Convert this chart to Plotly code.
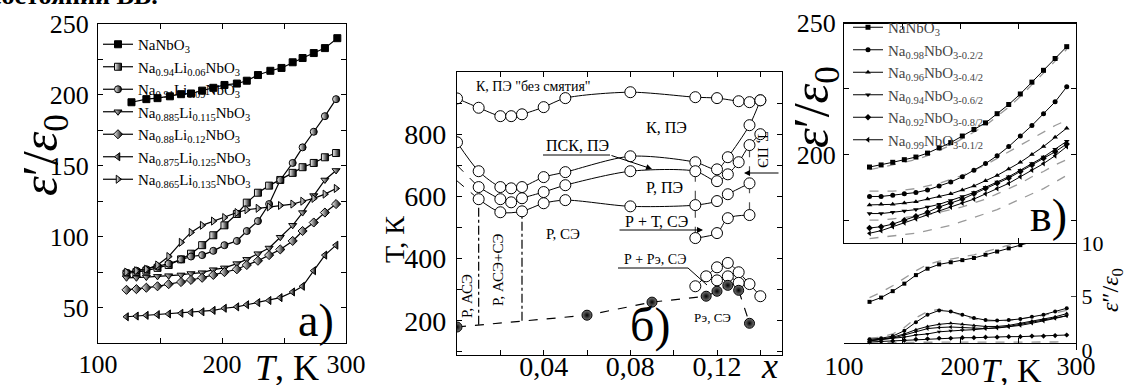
import plotly.graph_objects as go

W, H = 1124, 385
FONT = "Liberation Serif"

# ---------------- Panel a data (eps'/eps0 vs T) ----------------
T_na = [127, 139, 148, 158, 167, 175, 184, 193, 202, 212, 220, 229, 239, 248, 257, 265, 274, 283, 293]
eps_na = [194.8, 197, 197.7, 199, 200.5, 201, 203, 205, 207, 208, 210, 214, 217, 219, 223, 226, 229.5, 233, 240]

T_a = [123, 131, 139, 148, 157, 167, 175, 184, 193, 202, 212, 220, 229, 238, 247, 257, 265, 274, 283, 292]
eps_li006 = [74, 75, 76, 78, 80, 84, 88, 94, 101, 108, 116, 124, 131, 136, 140, 145, 149, 152, 156, 159]
eps_li009 = [74.6, 76, 77, 79, 81, 84, 86, 87, 90, 94, 97, 104, 111, 123, 140, 152, 163, 174, 185, 197]
eps_li0115 = [71, 71, 71.5, 72, 72.5, 73, 74, 74.6, 76.7, 78, 81, 84, 88, 92, 99.6, 108, 117, 129, 140, 146.7]
eps_li012 = [62.5, 63, 64, 65, 66.5, 68, 69.5, 71, 73, 75, 77, 80, 83, 87, 91, 97, 104, 110, 117, 123]
eps_li0125 = [43.5, 44, 44.5, 45, 45.5, 46, 46.5, 47, 48, 49.5, 50.5, 52, 53.5, 55, 57, 61, 65, 76, 87, 94]
eps_li0135 = [75, 76, 77, 80, 86, 96, 103, 108, 111, 113.5, 117, 119, 120, 121, 122, 123, 125, 127, 130, 134]

names_a = ["NaNbO<sub>3</sub>",
           "Na<sub>0.94</sub>Li<sub>0.06</sub>NbO<sub>3</sub>",
           "Na<sub>0.91</sub>Li<sub>0.09</sub>NbO<sub>3</sub>",
           "Na<sub>0.885</sub>Li<sub>0.115</sub>NbO<sub>3</sub>",
           "Na<sub>0.88</sub>Li<sub>0.12</sub>NbO<sub>3</sub>",
           "Na<sub>0.875</sub>Li<sub>0.125</sub>NbO<sub>3</sub>",
           "Na<sub>0.865</sub>Li<sub>0.135</sub>NbO<sub>3</sub>"]

# ---------------- Panel b data (phase diagram T vs x) ----------------
x_c1 = [0, 0.01, 0.02, 0.025, 0.03, 0.04, 0.05, 0.08, 0.11, 0.12, 0.13, 0.135, 0.14]
T_c1 = [915, 885, 858, 858, 864, 887, 916, 935, 919, 916, 906, 903, 909]
x_c2 = [0, 0.01, 0.02, 0.025, 0.03, 0.04, 0.05, 0.08, 0.11, 0.12, 0.125, 0.135, 0.14]
T_c2 = [774, 681, 630, 626, 630, 662, 678, 729, 710, 687, 726, 829, 909]
x_c3 = [0.01, 0.02, 0.025, 0.03, 0.04, 0.05, 0.08, 0.11, 0.12, 0.125, 0.13, 0.135, 0.14]
T_c3 = [630, 591, 581, 594, 614, 636, 681, 681, 649, 671, 710, 765, 800]
x_c4 = [0.01, 0.02, 0.03, 0.04, 0.05, 0.08, 0.11, 0.12, 0.125, 0.135]
T_c4 = [591, 549, 552, 578, 588, 568, 572, 585, 607, 642]
x_c5 = [0.11, 0.12, 0.125, 0.135]
T_c5 = [466, 482, 530, 540]
x_ext3 = [0, 0.01]
T_ext3 = [700, 630]
x_ext4 = [0, 0.01]
T_ext4 = [650, 591]
x_low1 = [0.11, 0.115, 0.12, 0.125, 0.13, 0.135, 0.14]
T_low1 = [311, 343, 372, 386, 356, 318, 279]
x_low2 = [0.12, 0.125, 0.13]
T_low2 = [330, 343, 322]
x_fill = [0, 0.06, 0.09, 0.115, 0.12, 0.125, 0.13, 0.135]
T_fill = [180, 218, 260, 279, 295, 314, 298, 192]
x_dd1 = [0.01, 0.01]
T_dd1 = [187, 591]
x_dd2 = [0.03, 0.03]
T_dd2 = [200, 552]
x_dv1 = [0.11, 0.11]
T_dv1 = [676, 472]
x_dv2 = [0.135, 0.135]
T_dv2 = [755, 548]

# ---------------- Panel c data ----------------
T_c = [122, 132, 142, 152, 162, 172, 182, 192, 202, 212, 222, 232, 242, 252, 262, 272, 282, 292]
ep_na = [195.2, 196, 197, 198, 199, 200.5, 202.5, 204.5, 207, 209.5, 212, 215.5, 219, 223, 227.5, 232, 236.5, 241]
ep_098 = [184, 184, 184.5, 185, 185.5, 186.5, 188, 189.5, 191.5, 194, 196.5, 199.5, 203, 207, 211, 215.5, 220, 225.7]
ep_096 = [180.8, 181, 181, 181.5, 182, 183, 184, 185, 186.5, 188, 190, 192, 194.5, 197, 200, 203, 206.5, 210]
ep_094 = [177.5, 177.5, 178, 178.5, 179, 180, 181, 182.5, 184, 185.5, 187.5, 189.5, 191.5, 194, 196.5, 199, 202, 205]
ep_092 = [172, 172.5, 173.5, 175, 176.5, 178, 180, 181.5, 183, 185, 187, 189, 191, 193.5, 196, 198.5, 201, 204]
ep_099 = [170, 171, 172.5, 174, 175.5, 177, 178.5, 180, 181.5, 183, 185, 187, 189, 191.5, 194, 196.5, 199.5, 203]
ep_fit1 = [194.2, 195, 196, 197, 198, 199.5, 201.5, 203.5, 206, 208.5, 211, 214.5, 218, 222, 226.5, 231, 235.5, 240]
ep_fit2 = [186, 186, 186, 186.5, 187, 188, 189, 190.5, 192, 194, 196, 198.5, 201, 203.5, 206, 208.5, 211, 213]
ep_fit3 = [175, 175, 175.5, 176, 176.5, 177, 178, 179, 180, 181.5, 183, 185, 187, 189, 191.5, 193.5, 196, 198]
ep_fit4 = [168, 168.5, 169, 169.5, 170, 171, 172, 173, 174.5, 176, 177.5, 179, 181, 183, 185, 187, 189.5, 192]

epp_1 = [4.5, 4.9, 5.5, 6.2, 7.0, 7.6, 8.0, 8.2, 8.4, 8.6, 8.9, 9.2, 9.5, 9.8, 10.1, 10.4, 10.7, 11.0]
epp_2 = [1.0, 1.1, 1.3, 1.8, 2.6, 3.3, 3.7, 3.6, 3.3, 3.0, 2.8, 2.75, 2.8, 2.9, 3.1, 3.3, 3.6, 3.9]
epp_3 = [0.9, 1.0, 1.2, 1.5, 1.9, 2.2, 2.4, 2.5, 2.4, 2.3, 2.2, 2.2, 2.3, 2.5, 2.7, 2.9, 3.1, 3.4]
epp_4 = [0.9, 1.0, 1.1, 1.2, 1.4, 1.5, 1.7, 1.8, 1.85, 1.9, 2.0, 2.1, 2.2, 2.4, 2.6, 2.8, 3.0, 3.2]
epp_5 = [0.75, 0.8, 0.85, 0.9, 1.0, 1.05, 1.1, 1.1, 1.15, 1.15, 1.2, 1.2, 1.25, 1.25, 1.3, 1.3, 1.35, 1.4]
epp_6 = [0.85, 0.95, 1.1, 1.4, 1.7, 2.0, 2.1, 2.15, 2.1, 2.05, 2.0, 2.05, 2.15, 2.3, 2.5, 2.7, 2.95, 3.2]
epp_fit1 = [4.9, 5.4, 6.0, 6.7, 7.4, 8.0, 8.3, 8.5, 8.7, 8.9, 9.2, 9.5, 9.8, 10.1, 10.4, 10.7, 11.0, 11.3]
epp_fit2 = [1.1, 1.2, 1.5, 2.1, 3.0, 3.6, 3.8, 3.6, 3.2, 2.9, 2.7, 2.7, 2.75, 2.9, 3.05, 3.25, 3.45, 3.7]
epp_fit3 = [0.65, 0.7, 0.7, 0.72, 0.72, 0.75, 0.75, 0.75, 0.75, 0.75, 0.75, 0.75, 0.75, 0.75, 0.75, 0.75, 0.75, 0.8]

names_c = ["NaNbO<sub>3</sub>",
           "Na<sub>0.98</sub>NbO<sub>3-0.2/2</sub>",
           "Na<sub>0.96</sub>NbO<sub>3-0.4/2</sub>",
           "Na<sub>0.94</sub>NbO<sub>3-0.6/2</sub>",
           "Na<sub>0.92</sub>NbO<sub>3-0.8/2</sub>",
           "Na<sub>0.99</sub>NbO<sub>3-0.1/2</sub>"]


def xd(l, r):
    return [l / W, r / W]


def yd(t, b):
    return [1 - b / H, 1 - t / H]


def P(px, py):
    return px / W, 1 - py / H


fig = go.Figure()

# ---------- panel a traces ----------
sym_a = ["square", "square", "circle", "triangle-down", "diamond", "triangle-left", "triangle-right"]
series_a = [(T_na, eps_na)] + [(T_a, e) for e in [eps_li006, eps_li009, eps_li0115, eps_li012, eps_li0125, eps_li0135]]
for i, ((tx, ey), nm, sy) in enumerate(zip(series_a, names_a, sym_a)):
    if i == 0:
        mk = dict(symbol=sy, size=7, color="black", line=dict(color="black", width=1))
    else:
        mk = dict(symbol=sy, size=7, color="white", line=dict(color="black", width=1),
                  gradient=dict(type="horizontal", color="black"))
    fig.add_trace(go.Scatter(x=tx, y=ey, mode="lines+markers", name=nm, xaxis="x", yaxis="y",
                             line=dict(color="black", width=1.2), marker=mk,
                             legend="legend", legendgroup="a%d" % i))

# ---------- panel b traces ----------
open_mk = dict(symbol="circle", size=11, color="white", line=dict(color="black", width=1))
for xs, ts in [(x_ext3, T_ext3), (x_ext4, T_ext4)]:
    fig.add_trace(go.Scatter(x=xs, y=ts, mode="lines", xaxis="x2", yaxis="y2", showlegend=False,
                             line=dict(color="black", width=1, dash="dash")))
for xs, ts in [(x_dd1, T_dd1), (x_dd2, T_dd2)]:
    fig.add_trace(go.Scatter(x=xs, y=ts, mode="lines", xaxis="x2", yaxis="y2", showlegend=False,
                             line=dict(color="black", width=1.2, dash="dashdot")))
for xs, ts in [(x_dv1, T_dv1), (x_dv2, T_dv2)]:
    fig.add_trace(go.Scatter(x=xs, y=ts, mode="lines", xaxis="x2", yaxis="y2", showlegend=False,
                             line=dict(color="#555", width=1.2, dash="dash")))
fig.add_trace(go.Scatter(x=x_fill, y=T_fill, mode="lines", xaxis="x2", yaxis="y2", showlegend=False,
                         line=dict(color="black", width=1.2, dash="dash")))
for xs, ts in [(x_c1, T_c1), (x_c2, T_c2), (x_c3, T_c3), (x_c4, T_c4), (x_c5, T_c5),
               (x_low1, T_low1), (x_low2, T_low2)]:
    fig.add_trace(go.Scatter(x=xs, y=ts, mode="lines+markers", xaxis="x2", yaxis="y2", showlegend=False,
                             line=dict(color="black", width=1, shape="spline", smoothing=0.8),
                             marker=open_mk))
fig.add_trace(go.Scatter(x=x_fill, y=T_fill, mode="markers", xaxis="x2", yaxis="y2", showlegend=False,
                         marker=dict(symbol="circle", size=10, color="#777", line=dict(color="black", width=1),
                                     gradient=dict(type="radial", color="black"))))

# ---------- panel c traces ----------
grey_dash = dict(color="#9a9a9a", width=1.3, dash="dash")
for ey in [ep_fit1, ep_fit2, ep_fit3, ep_fit4]:
    fig.add_trace(go.Scatter(x=T_c, y=ey, mode="lines", xaxis="x3", yaxis="y3", showlegend=False,
                             line=grey_dash))
sym_c = ["square", "circle", "triangle-up", "triangle-down", "diamond", "triangle-left"]
for i, (ey, nm, sy) in enumerate(zip([ep_na, ep_098, ep_096, ep_094, ep_092, ep_099], names_c, sym_c)):
    fig.add_trace(go.Scatter(x=T_c, y=ey, mode="lines+markers", name=nm, xaxis="x3", yaxis="y3",
                             line=dict(color="black", width=1), marker=dict(symbol=sy, size=5, color="black"),
                             legend="legend2", legendgroup="c%d" % i))
for ey in [epp_fit1, epp_fit2, epp_fit3]:
    fig.add_trace(go.Scatter(x=T_c, y=ey, mode="lines", xaxis="x4", yaxis="y5", showlegend=False,
                             line=grey_dash))
for ey, sy in zip([epp_1, epp_2, epp_3, epp_4, epp_5, epp_6], sym_c):
    fig.add_trace(go.Scatter(x=T_c, y=ey, mode="lines+markers", xaxis="x4", yaxis="y5", showlegend=False,
                             line=dict(color="black", width=1), marker=dict(symbol=sy, size=4, color="black")))

ax_common = dict(showline=True, linecolor="black", linewidth=1.3, mirror="allticks", ticks="inside",
                 ticklen=5, tickcolor="black", showgrid=False, zeroline=False, automargin=False,
                 tickfont=dict(family=FONT, size=26, color="black"))
tf28 = dict(family=FONT, size=28, color="black")

fig.update_layout(
    template="none",
    width=W, height=H, margin=dict(l=0, r=0, t=0, b=0, autoexpand=False),
    paper_bgcolor="white", plot_bgcolor="white",
    font=dict(family=FONT, color="black"),
    xaxis=dict(domain=xd(98, 346), range=[100, 300], anchor="y", ticklabelstandoff=-2,
               tickvals=[100, 150, 200, 250, 300], ticktext=["100", "", "200", "", "300"], **ax_common),
    yaxis=dict(domain=yd(24, 343), range=[25, 250], anchor="x", ticklabelstandoff=3,
               tickvals=[50, 75, 100, 125, 150, 175, 200, 225, 250],
               ticktext=["50", "", "100", "", "150", "", "200", "", "250"], **ax_common),
    xaxis2=dict(domain=xd(457, 782), range=[0, 0.15], anchor="y2", ticklabelstandoff=-14,
                tickvals=[0.02, 0.04, 0.06, 0.08, 0.10, 0.12, 0.14],
                ticktext=["", "0,04", "", "0,08", "", "0,12", ""], **{**ax_common, "tickfont": tf28}),
    yaxis2=dict(domain=yd(72, 355), range=[90, 1000], anchor="x2", ticklabelstandoff=4,
                tickvals=[100, 200, 300, 400, 500, 600, 700, 800, 900],
                ticktext=["", "200", "", "400", "", "600", "", "800", ""], **{**ax_common, "tickfont": tf28}),
    xaxis3=dict(domain=xd(844, 1076), range=[100, 300], anchor="y3", showticklabels=False,
                tickvals=[150, 200, 250], **ax_common),
    yaxis3=dict(domain=yd(23, 243), range=[166.3, 250], anchor="x3", ticklabelstandoff=2,
                tickvals=[175, 200, 225, 250], ticktext=["", "200", "", "250"], **ax_common),
    xaxis4=dict(domain=xd(844, 1076), range=[100, 300], anchor="y4", ticklabelstandoff=0,
                tickvals=[100, 150, 200, 250, 300], ticktext=["100", "", "200", "", "300"], **ax_common),
    yaxis4=dict(domain=yd(243, 350), range=[125.5, 166.3], anchor="x4", ticklabelstandoff=2,
                tickvals=[150], ticktext=["150"], **{**ax_common, "mirror": False}),
    yaxis5=dict(domain=yd(243, 350), range=[0, 10], anchor="x4", overlaying="y4", side="right",
                tickvals=[0, 5, 10], ticktext=["0", "5", "10"], automargin=False,
                showline=True, linecolor="black", linewidth=1.3, ticks="inside", ticklen=5,
                showgrid=False, zeroline=False, tickfont=dict(family=FONT, size=22, color="black")),
    legend=dict(x=98 / W, y=1 - 28 / H, xanchor="left", yanchor="top", bgcolor="rgba(0,0,0,0)",
                font=dict(family=FONT, size=15, color="black"), tracegroupgap=0, itemwidth=30),
    legend2=dict(x=848 / W, y=1 - 11 / H, xanchor="left", yanchor="top", bgcolor="rgba(0,0,0,0)",
                 font=dict(family=FONT, size=15, color="#444"), tracegroupgap=0, itemwidth=30),
)

ann = []


def txt(px, py, s, size, angle=0, **kw):
    x, y = P(px, py)
    ann.append(dict(x=x, y=y, xref="paper", yref="paper", text=s, showarrow=False, textangle=angle,
                    font=dict(family=FONT, size=size, color=kw.pop("color", "black")),
                    xanchor=kw.pop("xanchor", "center"), yanchor=kw.pop("yanchor", "middle"), **kw))


def arrow(px, py, dx, dy):
    x, y = P(px, py)
    ann.append(dict(x=x, y=y, xref="paper", yref="paper", text="", showarrow=True, ax=dx, ay=dy,
                    arrowhead=2, arrowsize=1.2, arrowwidth=1, arrowcolor="black"))


# cut-off caption at the top edge
txt(160, 12, "<b>состоянии ВВ.</b>", 26, xanchor="right", yanchor="bottom")

# panel a labels
txt(44, 155, "<i>ε</i>′/<i>ε</i><sub>0</sub>", 50, angle=-90)
txt(287, 368, "<i>T</i>, K", 36)
txt(316, 320, "а)", 46)

# panel b labels
txt(394, 240, "Т, К", 28, angle=-90)
txt(769, 366, "<i>x</i>", 36)
txt(533, 87, "К, ПЭ \"без смятия\"", 14)
txt(667, 127, "К, ПЭ", 16)
txt(577, 145, "ПСК, ПЭ", 16)
txt(664, 188, "Р, ПЭ", 16)
txt(656, 221, "Р + Т, СЭ", 16)
txt(563, 234, "Р, СЭ", 15)
txt(655, 259, "Р + Рэ, СЭ", 14)
txt(712, 317, "Рэ, СЭ", 13)
txt(467, 296, "Р, АСЭ", 15, angle=-90)
txt(498, 270, "Р, АСЭ+СЭ", 15, angle=-90)
txt(763, 150, "Т, ПЭ", 15, angle=90)
txt(650, 325, "б)", 48)
arrow(652, 169, -42, -14)
arrow(703, 230, -85, 0)
arrow(744, 173, 36, 0)

# panel c labels
txt(815, 107, "<i>ε</i>′/<i>ε</i><sub>0</sub>", 50, angle=-90)
txt(1112, 290, "<i>ε</i>″/<i>ε</i><sub>0</sub>", 24, angle=-90)
txt(1011, 370, "<i>T</i>, K", 34)
txt(1048, 215, "в)", 46)

fig.update_layout(annotations=ann)

shapes = []


def seg(x0, y0, x1, y1):
    a0, b0 = P(x0, y0)
    a1, b1 = P(x1, y1)
    shapes.append(dict(type="line", xref="paper", yref="paper", x0=a0, y0=b0, x1=a1, y1=b1,
                       line=dict(color="black", width=1)))


seg(543, 155, 610, 155)
seg(618, 268, 688, 268)
seg(688, 268, 707, 285)
fig.update_layout(shapes=shapes)

fig.write_html("out.html")
